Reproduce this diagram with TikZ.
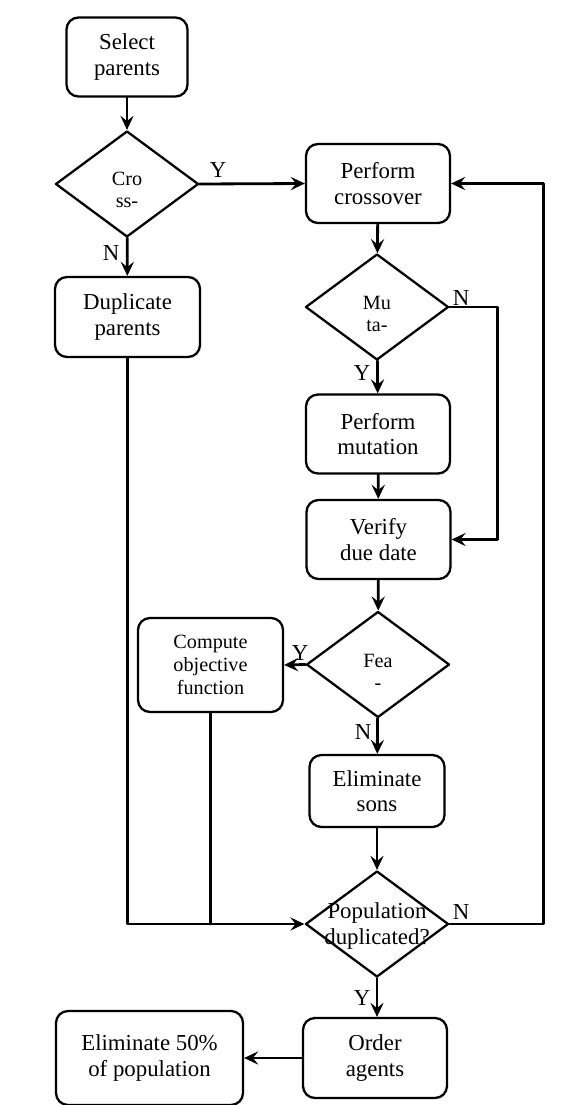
\documentclass[tikz,border=0pt]{standalone}
\usepackage{fontspec}
\setmainfont{Liberation Serif}
\usetikzlibrary{shapes.geometric,arrows.meta}

\begin{document}
\begin{tikzpicture}[x=0.2mm,y=-0.2mm,line cap=round,line join=round,
  box/.style={draw,line width=1.3pt,rounded corners=2.4mm,align=center,inner sep=1pt,
    minimum width=28.8mm,minimum height=15.8mm,font=\fontsize{13}{14.5}\selectfont},
  decision/.style={draw,line width=1.3pt,diamond,inner sep=0pt,
    minimum width=28.6mm,minimum height=21.2mm},
  dtext/.style={align=center,inner sep=0pt,font=\fontsize{11.5}{12.5}\selectfont},
  yn/.style={inner sep=0pt,font=\fontsize{13}{14}\selectfont},
  arr/.style={line width=1.6pt,-{Stealth[length=8pt,width=7.5pt,inset=3pt]}},
  wire/.style={line width=1.6pt}]
\useasboundingbox (0,0) rectangle (582,1105);

\node[box,minimum width=24.2mm] (sel) at (127,57) {Select\\parents};
\node[decision,label={[dtext,yshift=-1.2mm]center:{Cro\\ss-}}] (cross) at (127,184) {};
\node[box] (xover) at (378,183.5) {Perform\\crossover};
\node[box,minimum width=29mm,minimum height=16mm] (dup) at (127.5,317) {Duplicate\\parents};
\node[decision,label={[dtext,yshift=-1.4mm]center:{Mu\\ta-}}] (mut) at (377,307) {};
\node[box] (pmut) at (378,434) {Perform\\mutation};
\node[box] (verify) at (378.5,539.5) {Verify\\due date};
\node[decision,label={[dtext,yshift=-1.4mm]center:{Fea\\-}}] (fea) at (378,664.5) {};
\node[box,minimum width=29mm,minimum height=18.8mm,
  font=\fontsize{11.5}{13}\selectfont] (comp) at (210.5,665) {Compute\\objective\\function};
\node[box,minimum width=27mm,minimum height=14.4mm] (elim) at (377,791) {Eliminate\\sons};
\node[decision,label={[dtext,yshift=-0.4mm,font=\fontsize{13}{14.5}\selectfont]center:{Population\\duplicated?}}] (pop) at (377,924) {};
\node[box,minimum height=16mm] (order) at (375,1058) {Order\\agents};
\node[box,minimum width=37.4mm,minimum height=18.8mm] (half) at (149.5,1058) {Eliminate 50\%\\of population};

%%%%%%%%%%%%%%%% Y / N %%%%%%%%%%%%%%%%%%%
\node[yn] (ycross) at (218,170) {Y};
\node[yn] (ncross) at (111,253) {N};
\node[yn] (nmut) at (461,298) {N};
\node[yn] (ymut) at (362,373) {Y};
\node[yn] (yfea) at (300,653) {Y};
\node[yn] (nfea) at (363,732) {N};
\node[yn] (npop) at (461,912) {N};
\node[yn] (ypop) at (362,998) {Y};

%%%%%%%%%%%%%%%% ARROWS %%%%%%%%%%%%%%%%%%%
\draw[arr] (sel) -- (cross);
\draw[arr] (cross.east) -- (xover.west);
\draw[arr] (cross) -- (dup);
\draw[arr] (xover) -- (mut);
\draw[arr] (mut) -- (pmut);
\draw[arr] (mut.east) -- ++(48,0) |- (verify.east);
\draw[arr] (pmut) -- (verify);
\draw[arr] (verify) -- (fea);
\draw[arr] (fea.west) -- (comp.east);
\draw[arr] (fea) -- (elim);
\draw[arr] (elim) -- (pop);
\draw[arr] (dup.south) |- (pop.west);
\draw[wire] (comp.south) -- (comp.south |- pop.west);
\draw[arr] (pop.east) -- ++(94,0) |- (xover.east);
\draw[arr] (pop.south) -- (pop.south |- order.north);
\draw[arr] (order.west) -- (half.east);

\end{tikzpicture}
\end{document}
